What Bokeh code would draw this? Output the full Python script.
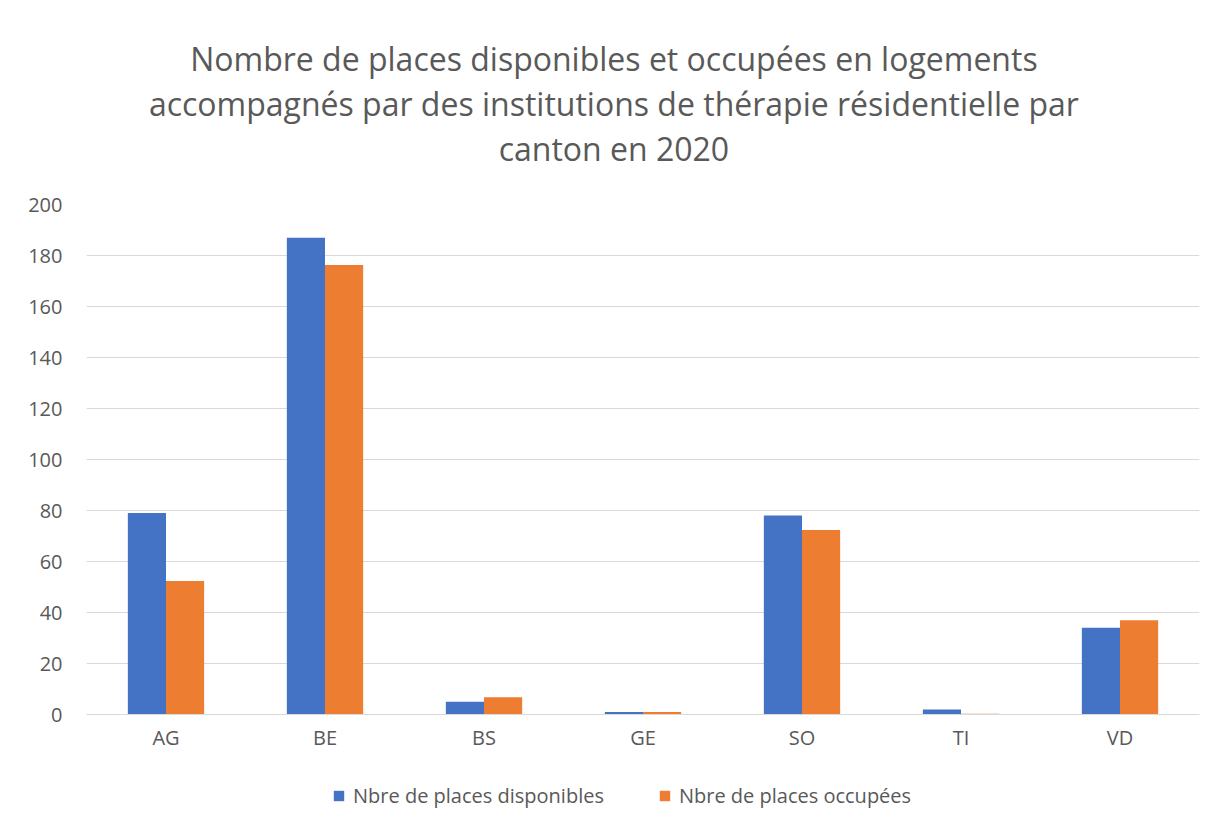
from bokeh.plotting import figure
from bokeh.models import ColumnDataSource, FactorRange, Range1d, Title, Legend, LegendItem, FixedTicker
from bokeh.transform import dodge
from bokeh.embed import file_html
from bokeh.resources import INLINE

cantons = ["AG", "BE", "BS", "GE", "SO", "TI", "VD"]
disponibles = [79, 187, 5, 1, 78, 2, 34]
occupees = [52.4, 176.3, 6.8, 1, 72.4, 0.3, 37]
y_ticks = [0, 20, 40, 60, 80, 100, 120, 140, 160, 180, 200]
title_lines = [
    "Nombre de places disponibles et occupées en logements",
    "accompagnés par des institutions de thérapie résidentielle par",
    "canton en 2020",
]
series_names = ["Nbre de places disponibles", "Nbre de places occupées"]
colors = ["#4472C4", "#ED7D31"]

src = ColumnDataSource(dict(cat=cantons, a=disponibles, b=occupees))

FONT = "Open Sans"
GREY = "#595959"
PAD = "\u00a0" * 7  # shifts the centred title lines left, as in the original

# the frame extends below 0 to hold the legend (510 px for 0..200, 100 px extra)
p = figure(x_range=FactorRange(*cantons, range_padding=0), y_range=Range1d(-39.2, 200),
           frame_width=1113, frame_height=610, output_backend="svg", toolbar_location=None,
           min_border_left=86, min_border_right=11, min_border_top=10, min_border_bottom=0)
p.title = None

r1 = p.vbar(x=dodge("cat", -0.12, range=p.x_range), top="a", width=0.24, source=src,
            color=colors[0], line_color=None)
r2 = p.vbar(x=dodge("cat", 0.12, range=p.x_range), top="b", width=0.24, source=src,
            color=colors[1], line_color=None)

p.add_layout(Title(text=" ", text_font_size="21px"), "above")
for line in reversed(title_lines):
    p.add_layout(Title(text=line + PAD, align="center", text_font=FONT, text_font_size="32px",
                       text_color=GREY, text_font_style="normal", standoff=0), "above")
p.add_layout(Title(text=" ", text_font_size="20px"), "above")

p.outline_line_color = None
p.xgrid.grid_line_color = None
p.ygrid.grid_line_color = "#d9d9d9"
p.ygrid.grid_line_width = 1
p.yaxis.ticker = FixedTicker(ticks=y_ticks)
p.yaxis.axis_line_color = None
p.yaxis.major_tick_line_color = None
p.yaxis.minor_tick_line_color = None
p.yaxis.major_label_text_font = FONT
p.yaxis.major_label_text_font_size = "20px"
p.yaxis.major_label_text_color = GREY
p.yaxis.major_label_standoff = 18

p.xaxis.fixed_location = 0
p.xaxis.axis_line_color = "#d9d9d9"
p.xaxis.major_tick_line_color = None
p.xaxis.minor_tick_line_color = None
p.xaxis.major_label_text_font = FONT
p.xaxis.major_label_text_font_size = "20px"
p.xaxis.major_label_text_color = GREY
p.xaxis.major_label_standoff = 3

legend = Legend(items=[LegendItem(label=series_names[0], renderers=[r1]),
                       LegendItem(label=series_names[1], renderers=[r2])],
                orientation="horizontal", location=(246, 5),
                label_text_font=FONT, label_text_font_size="20px", label_text_color=GREY,
                glyph_width=13, glyph_height=13, spacing=54, border_line_color=None,
                background_fill_alpha=0, label_standoff=8, margin=0, padding=0)
p.add_layout(legend, "center")

open("out.html", "w").write(file_html(p, INLINE))
